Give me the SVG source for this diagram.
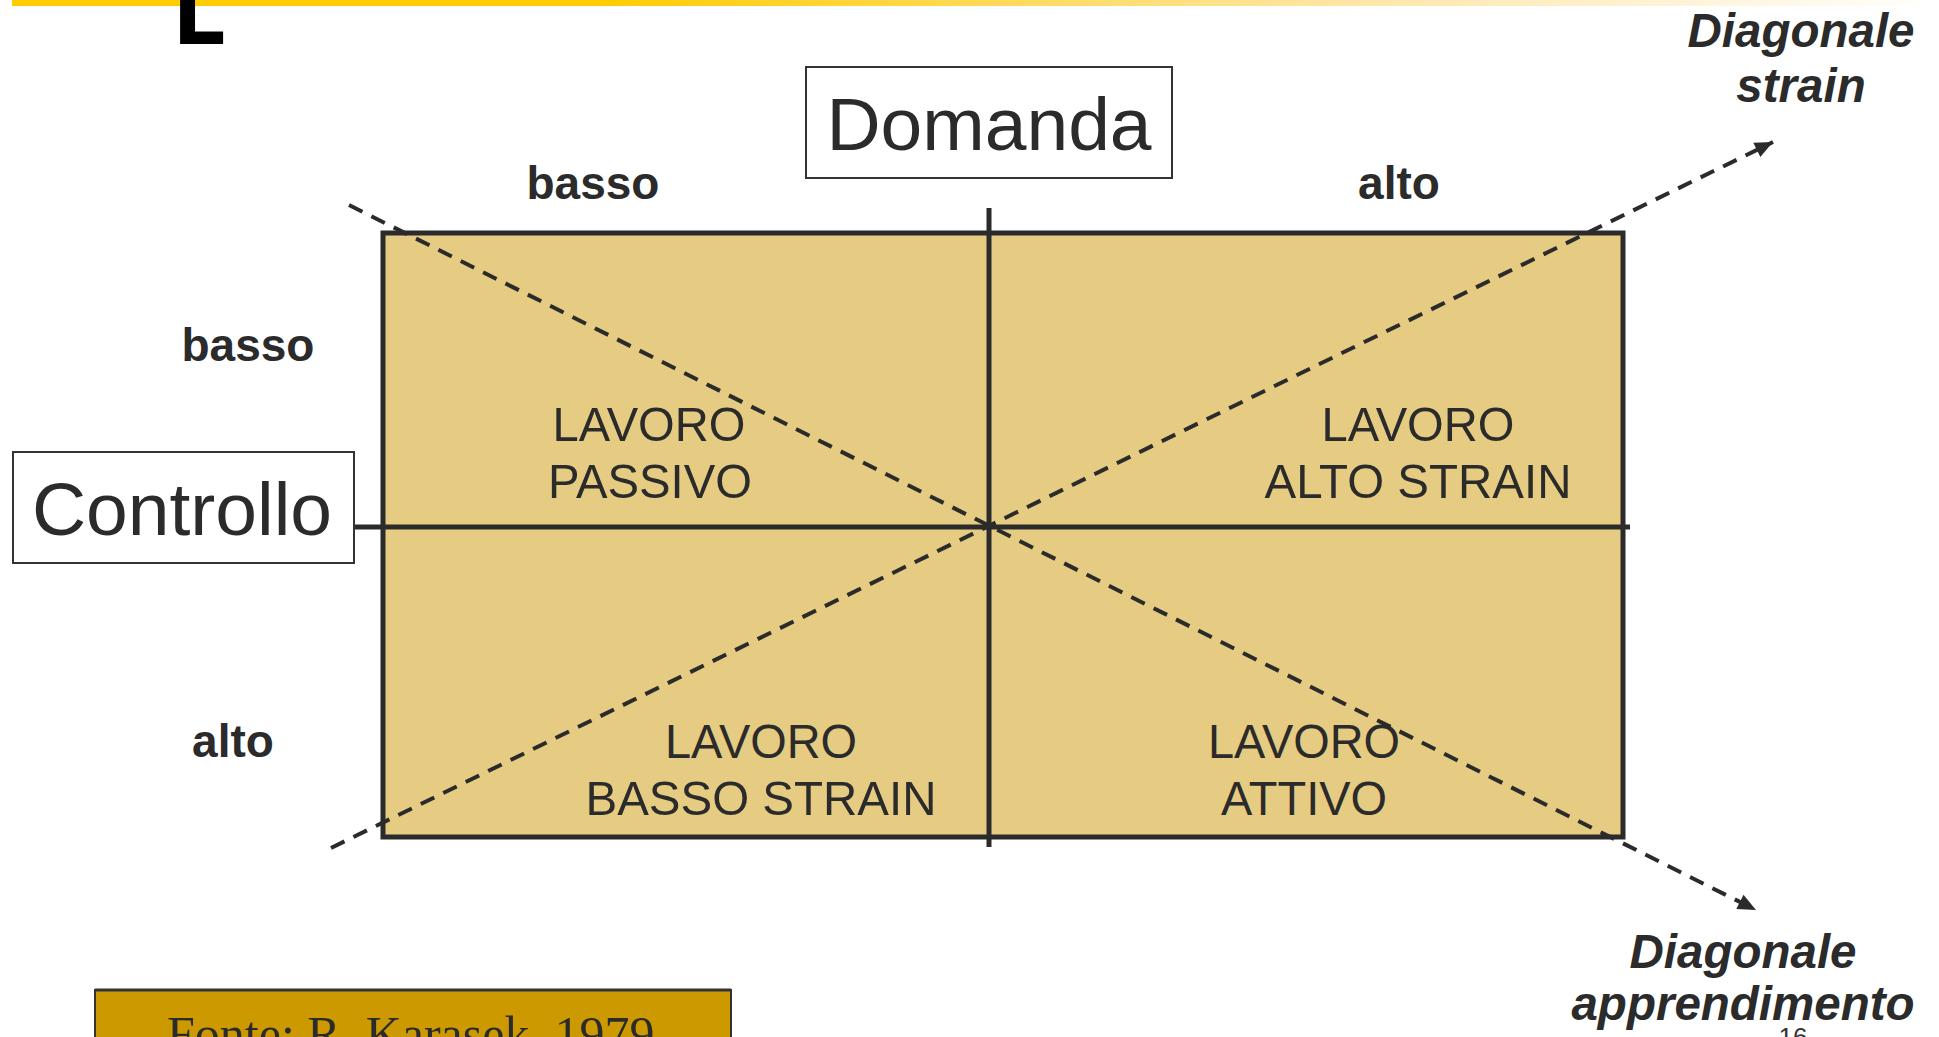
<svg xmlns="http://www.w3.org/2000/svg" width="1939" height="1037" viewBox="0 0 1939 1037">
<defs>
<linearGradient id="topbar" x1="0" y1="0" x2="1" y2="0">
<stop offset="0" stop-color="#FFCC00"/>
<stop offset="0.3" stop-color="#FFCC00"/>
<stop offset="0.7" stop-color="#FFE6A8"/>
<stop offset="1" stop-color="#FFFFFF"/>
</linearGradient>
<marker id="arrow" markerUnits="userSpaceOnUse" markerWidth="22" markerHeight="22" viewBox="0 0 22 22" refX="20" refY="11" orient="auto">
<path d="M2,3 L20,11 L2,19 Z" fill="#2B2B2B"/>
</marker>
<style>
.lbl{font-family:"Liberation Sans",Arial,sans-serif;font-weight:bold;font-size:46px;fill:#2B2B2B;text-anchor:middle}
.diag{font-family:"Liberation Sans",Arial,sans-serif;font-weight:bold;font-style:italic;font-size:47.5px;fill:#2B2B2B;text-anchor:middle}
.axis{font-family:"Liberation Sans",Arial,sans-serif;font-size:75px;fill:#2B2B2B;text-anchor:middle}
.cell{font-family:"Liberation Sans",Arial,sans-serif;font-size:49px;fill:#2B2B2B;text-anchor:middle}
.box{fill:#FFFFFF;stroke:#333333;stroke-width:2}
.grid{stroke:#2B2B2B;stroke-width:5;fill:none}
.dash{stroke:#2B2B2B;stroke-width:4;stroke-dasharray:15 10;fill:none}
</style>
</defs>
<rect x="12" y="0" width="1927" height="6" fill="url(#topbar)"/>
<text x="177" y="42" font-family="Liberation Sans, Arial, sans-serif" font-weight="bold" font-size="76" fill="#000000" stroke="#000000" stroke-width="4">L</text>

<g id="matrix">
<rect x="383" y="233" width="1240" height="604" fill="#E6CC82" stroke="#2B2B2B" stroke-width="5"/>
</g>

<g id="connectors">
<line class="grid" x1="989" y1="208" x2="989" y2="847"/>
<line class="grid" x1="349" y1="527" x2="1630" y2="527"/>
<line class="dash" x1="331" y1="848" x2="1773" y2="142" marker-end="url(#arrow)"/>
<line class="dash" x1="349" y1="205" x2="1756" y2="910" marker-end="url(#arrow)"/>
</g>

<g id="cell-passivo">
<text class="cell" x="649" y="441" textLength="193" lengthAdjust="spacingAndGlyphs">LAVORO</text>
<text class="cell" x="650" y="498" textLength="204" lengthAdjust="spacingAndGlyphs">PASSIVO</text>
</g>
<g id="cell-alto-strain">
<text class="cell" x="1418" y="441" textLength="193" lengthAdjust="spacingAndGlyphs">LAVORO</text>
<text class="cell" x="1418" y="498" textLength="307" lengthAdjust="spacingAndGlyphs">ALTO STRAIN</text>
</g>
<g id="cell-basso-strain">
<text class="cell" x="761" y="758" textLength="192" lengthAdjust="spacingAndGlyphs">LAVORO</text>
<text class="cell" x="761" y="815" textLength="351" lengthAdjust="spacingAndGlyphs">BASSO STRAIN</text>
</g>
<g id="cell-attivo">
<text class="cell" x="1304" y="758" textLength="192" lengthAdjust="spacingAndGlyphs">LAVORO</text>
<text class="cell" x="1304" y="815" textLength="166" lengthAdjust="spacingAndGlyphs">ATTIVO</text>
</g>

<g id="domanda">
<rect class="box" x="806" y="67" width="366" height="111"/>
<text class="axis" x="989" y="150">Domanda</text>
</g>
<g id="controllo">
<rect class="box" x="13" y="452" width="341" height="111"/>
<text class="axis" x="182" y="535">Controllo</text>
</g>

<g id="labels">
<text class="lbl" x="593" y="199">basso</text>
<text class="lbl" x="1399" y="199">alto</text>
<text class="lbl" x="248" y="361">basso</text>
<text class="lbl" x="233" y="757">alto</text>
</g>

<g id="diag-strain">
<text class="diag" x="1801" y="47">Diagonale</text>
<text class="diag" x="1801" y="102">strain</text>
</g>
<g id="diag-apprendimento">
<text class="diag" x="1743" y="968">Diagonale</text>
<text class="diag" x="1743" y="1020">apprendimento</text>
</g>

<g id="fonte">
<rect x="95" y="990" width="636" height="60" fill="#CC9900" stroke="#333333" stroke-width="2"/>
<line x1="95" y1="990" x2="731" y2="990" stroke="#333333" stroke-width="3"/>
<text x="167" y="1051" font-family="Liberation Serif, 'Times New Roman', serif" font-size="50" fill="#2B2B2B">Fonte: R. Karasek, 1979</text>
</g>
<text x="1793" y="1046" font-family="Liberation Sans, Arial, sans-serif" font-size="26" fill="#333333" text-anchor="middle">16</text>
</svg>
